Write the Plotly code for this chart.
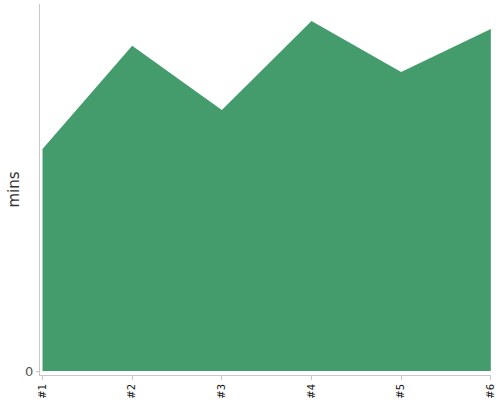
import plotly.graph_objects as go

# session labels and minutes
sessions = ["#1", "#2", "#3", "#4", "#5", "#6"]
minutes = [60.5, 88.6, 71.1, 95.4, 81.5, 93.2]
y_top = 100

fig = go.Figure()
fig.add_trace(go.Scatter(x=sessions, y=minutes, mode="lines", fill="tozeroy",
                         fillcolor="#449c6c", line=dict(color="#449c6c", width=0),
                         hoverinfo="x+y"))

fig.update_layout(
    width=500, height=400,
    margin=dict(l=40, r=9, t=4, b=25),
    plot_bgcolor="white", paper_bgcolor="white",
    showlegend=False,
    font=dict(family="DejaVu Sans", color="#333"),
    xaxis=dict(type="category", range=[-0.028, 5.002], showgrid=False, zeroline=False,
               showline=True, linecolor="#c8c8c8", linewidth=1,
               ticks="outside", ticklen=4, tickcolor="#c8c8c8",
               tickangle=-90, tickfont=dict(size=10, color="#111"), automargin=False),
    yaxis=dict(range=[-0.0109 * y_top, y_top], showgrid=False, zeroline=False,
               showline=True, linecolor="#c8c8c8", linewidth=1,
               tickvals=[0], ticks="outside", ticklen=3, tickcolor="#c8c8c8",
               tickfont=dict(size=13, color="#555"), automargin=False),
    # y title as an annotation so it sits where the reference has it
    annotations=[dict(text="mins", xref="paper", yref="paper", x=0, y=0.5,
                      xanchor="center", yanchor="middle", xshift=-27, textangle=-90,
                      showarrow=False, font=dict(size=15, color="#333"))],
)

# drop the page's default body margin so the figure sits at the window corner
fig.write_html("out.html", config={"displayModeBar": False},
               post_script="document.body.style.margin='0';")
